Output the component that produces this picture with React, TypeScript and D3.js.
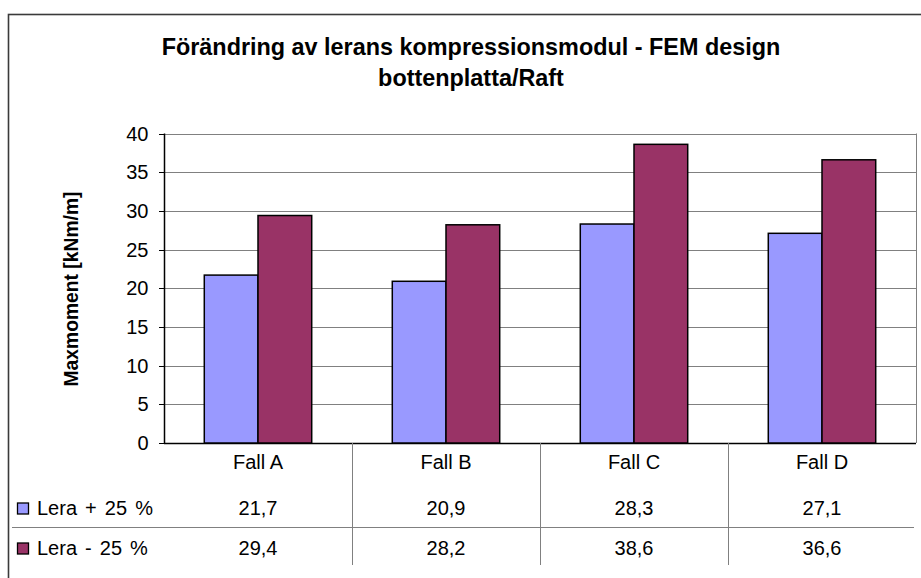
import React from "react";
import * as d3 from "d3";

const categories = ["Fall A", "Fall B", "Fall C", "Fall D"];
const seriesNames = ["Lera + 25 %", "Lera - 25 %"];
const seriesPlus = [21.7, 20.9, 28.3, 27.1];
const seriesMinus = [29.4, 28.2, 38.6, 36.6];
const seriesColors = ["#9999FF", "#993366"];
const yTicks = [0, 5, 10, 15, 20, 25, 30, 35, 40];
const titleLines = ["Förändring av lerans kompressionsmodul - FEM design", "bottenplatta/Raft"];
const yTitle = "Maxmoment [kNm/m]";

const W = 921;
const H = 578;
const plot = { left: 164, right: 916, top: 133.5, bottom: 443 };
const FONT = "Arial, 'Liberation Sans', sans-serif";

export default function App() {
  const series = [seriesPlus, seriesMinus];
  const x = d3.scaleBand<string>().domain(categories).range([plot.left, plot.right]).padding(0);
  const bw = x.bandwidth();
  const groupW = (bw * 2) / 3.5;
  const xInner = d3
    .scaleBand<number>()
    .domain([0, 1])
    .range([(bw - groupW) / 2, (bw + groupW) / 2])
    .padding(0);
  const y = d3.scaleLinear().domain([0, 40]).range([plot.bottom, plot.top]);
  const fmt = (v: number) => v.toFixed(1).replace(".", ",");

  const rowBase = [468.5, 515, 555];
  const sepY = 527.5;
  const fs = 20;

  return (
    <svg
      width={W}
      height={H}
      style={{ position: "absolute", left: 0, top: 0, background: "#fff" }}
      fontFamily={FONT}
    >
      <rect x={0} y={0} width={W} height={H} fill="#fff" />
      {/* outer border */}
      <rect x={8.5} y={14.5} width={940} height={620} fill="none" stroke="#3a3a3a" strokeWidth={1.6} />

      {/* title */}
      {titleLines.map((t, i) => (
        <text
          key={i}
          x={471}
          y={54.5 + i * 31.5}
          textAnchor="middle"
          fontWeight="bold"
          fontSize={23.4}
          fill="#000"
        >
          {t}
        </text>
      ))}

      {/* gridlines */}
      {yTicks.map((t) => (
        <line
          key={t}
          x1={plot.left}
          x2={plot.right}
          y1={Math.round(y(t)) + 0.5}
          y2={Math.round(y(t)) + 0.5}
          stroke={t === 0 ? "#000" : "#808080"}
          strokeWidth={t === 0 ? 1.5 : 1}
        />
      ))}
      {/* right border of plot area */}
      <line x1={plot.right + 0.5} x2={plot.right + 0.5} y1={plot.top} y2={plot.bottom} stroke="#808080" strokeWidth={1} />

      {/* bars */}
      {categories.map((c, ci) =>
        series.map((s, si) => {
          const bx = (x(c) as number) + (xInner(si) as number);
          const by = y(s[ci]);
          return (
            <rect
              key={c + si}
              x={bx}
              y={by}
              width={xInner.bandwidth()}
              height={plot.bottom - by}
              fill={seriesColors[si]}
              stroke="#000"
              strokeWidth={1.5}
            />
          );
        })
      )}

      {/* y axis */}
      <line x1={plot.left + 0.5} x2={plot.left + 0.5} y1={plot.top} y2={plot.bottom} stroke="#000" strokeWidth={1.5} />
      {yTicks.map((t) => (
        <g key={"t" + t}>
          <line
            x1={plot.left - 5}
            x2={plot.left}
            y1={Math.round(y(t)) + 0.5}
            y2={Math.round(y(t)) + 0.5}
            stroke="#000"
            strokeWidth={1}
          />
          <text x={148.5} y={y(t) + 7} textAnchor="end" fontSize={fs} fill="#000">
            {t}
          </text>
        </g>
      ))}

      {/* y title */}
      <text
        transform={`translate(78,${289}) rotate(-90)`}
        textAnchor="middle"
        fontWeight="bold"
        fontSize={19.3}
        fill="#000"
      >
        {yTitle}
      </text>

      {/* data table */}
      {categories.slice(1).map((c) => (
        <line
          key={"v" + c}
          x1={(x(c) as number) + 0.5}
          x2={(x(c) as number) + 0.5}
          y1={plot.bottom}
          y2={565}
          stroke="#808080"
          strokeWidth={1}
        />
      ))}
      <line x1={12} x2={914} y1={sepY} y2={sepY} stroke="#808080" strokeWidth={1} />
      {categories.map((c) => (
        <text
          key={"c" + c}
          x={(x(c) as number) + bw / 2}
          y={rowBase[0]}
          textAnchor="middle"
          fontSize={fs}
          fill="#000"
        >
          {c}
        </text>
      ))}
      {series.map((s, si) => (
        <g key={"row" + si}>
          <rect
            x={17.5}
            y={rowBase[si + 1] - 12}
            width={11}
            height={11}
            fill={seriesColors[si]}
            stroke="#000"
            strokeWidth={1.3}
          />
          <text x={37} y={rowBase[si + 1]} fontSize={fs} wordSpacing={2.5} fill="#000">
            {seriesNames[si]}
          </text>
          {categories.map((c, ci) => (
            <text
              key={c}
              x={(x(c) as number) + bw / 2}
              y={rowBase[si + 1]}
              textAnchor="middle"
              fontSize={fs}
              fill="#000"
            >
              {fmt(s[ci])}
            </text>
          ))}
        </g>
      ))}
    </svg>
  );
}
